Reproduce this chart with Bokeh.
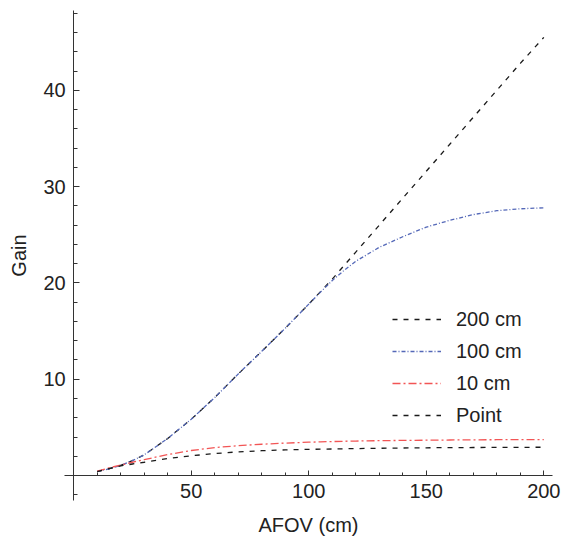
from bokeh.plotting import figure
from bokeh.models import Range1d, FixedTicker, Legend, LegendItem
from bokeh.embed import file_html
from bokeh.resources import INLINE

# ---- data ----
afov = [10, 15, 20, 25, 30, 40, 50, 60, 70, 80, 90, 100, 105, 110, 115, 120, 130, 140, 150, 160, 170, 180, 190, 200]
gain_200cm = [0.41, 0.7, 1.05, 1.55, 2.15, 3.85, 5.85, 8.1, 10.55, 12.9, 15.3, 17.8, 19.1, 20.4, 21.8, 23.2, 26.0, 28.8, 31.6, 34.4, 37.2, 40.0, 42.8, 45.5]
gain_100cm = [0.41, 0.7, 1.05, 1.55, 2.15, 3.85, 5.85, 8.1, 10.55, 12.9, 15.3, 17.8, 19.05, 20.25, 21.3, 22.25, 23.7, 24.8, 25.8, 26.5, 27.1, 27.5, 27.7, 27.8]
gain_10cm = [0.45, 0.8, 1.08, 1.38, 1.65, 2.18, 2.6, 2.9, 3.1, 3.25, 3.37, 3.46, 3.5, 3.53, 3.56, 3.58, 3.62, 3.65, 3.67, 3.69, 3.71, 3.72, 3.73, 3.74]
gain_point = [0.4, 0.72, 1.0, 1.2, 1.38, 1.77, 2.05, 2.28, 2.46, 2.58, 2.66, 2.72, 2.74, 2.76, 2.78, 2.8, 2.83, 2.86, 2.88, 2.9, 2.91, 2.92, 2.93, 2.94]

series_labels = ["200 cm", "100 cm", "10 cm", "Point"]
x_major = [50, 100, 150, 200]
x_minor = [10, 20, 30, 40, 60, 70, 80, 90, 110, 120, 130, 140, 160, 170, 180, 190]
y_major = [10, 20, 30, 40]
y_minor = [-2, 2, 4, 6, 8, 12, 14, 16, 18, 22, 24, 26, 28, 32, 34, 36, 38, 42, 44, 46, 48]

FONT = "Liberation Sans"
TXT = "#222222"

p = figure(width=564, height=536, output_backend="svg", toolbar_location=None,
           x_range=Range1d(-31.14, 208.8), y_range=Range1d(-6.33, 49.33),
           min_border=0)
p.outline_line_color = None
p.xgrid.grid_line_color = None
p.ygrid.grid_line_color = None
p.background_fill_color = "white"
p.border_fill_color = "white"

# axes crossing at the origin, with limited extent
p.xaxis.fixed_location = 0
p.yaxis.fixed_location = 0
p.xaxis.bounds = (-3.83, 203.8)
p.yaxis.bounds = (-2.6, 48.3)
p.xaxis.ticker = FixedTicker(ticks=x_major, minor_ticks=x_minor)
p.yaxis.ticker = FixedTicker(ticks=y_major, minor_ticks=y_minor)
for ax in (p.xaxis, p.yaxis):
    ax.axis_line_color = "#333333"
    ax.axis_line_width = 1
    ax.major_tick_line_color = "#333333"
    ax.minor_tick_line_color = "#333333"
    ax.major_tick_out = 0
    ax.minor_tick_out = 0
    ax.major_label_text_font = FONT
    ax.major_label_text_font_size = "20px"
    ax.major_label_text_color = TXT
    ax.axis_label_text_font = FONT
    ax.axis_label_text_font_size = "20px"
    ax.axis_label_text_font_style = "normal"
    ax.axis_label_text_color = TXT
p.xaxis.major_tick_in = 5
p.xaxis.minor_tick_in = 3
p.yaxis.major_tick_in = 6
p.yaxis.minor_tick_in = 4
p.xaxis.major_label_standoff = 8
p.yaxis.major_label_standoff = 8
p.xaxis.axis_label = "AFOV (cm)"
p.yaxis.axis_label = "Gain"
p.xaxis.axis_label_standoff = 13
p.yaxis.axis_label_standoff = 10

lw = 1.3
r200 = p.line(afov, gain_200cm, line_color="#1a1a1a", line_width=lw, line_dash="5 6")
r100 = p.line(afov, gain_100cm, line_color="#5468b8", line_width=lw, line_dash="4 2 1 2")
r10 = p.line(afov, gain_10cm, line_color="#f25555", line_width=lw, line_dash="8 3 2 3")
rpt = p.line(afov, gain_point, line_color="#1a1a1a", line_width=lw, line_dash="5 6")

legend = Legend(items=[LegendItem(label=series_labels[0], renderers=[r200]),
                       LegendItem(label=series_labels[1], renderers=[r100]),
                       LegendItem(label=series_labels[2], renderers=[r10]),
                       LegendItem(label=series_labels[3], renderers=[rpt])],
                location=(392, 109), orientation="vertical",
                border_line_color=None, background_fill_alpha=0,
                padding=0, margin=0, spacing=8,
                glyph_width=49, glyph_height=24, label_height=24, label_standoff=15,
                label_text_font=FONT, label_text_font_size="20px", label_text_color=TXT)
p.add_layout(legend, "center")

open("out.html", "w").write(file_html(p, INLINE))
